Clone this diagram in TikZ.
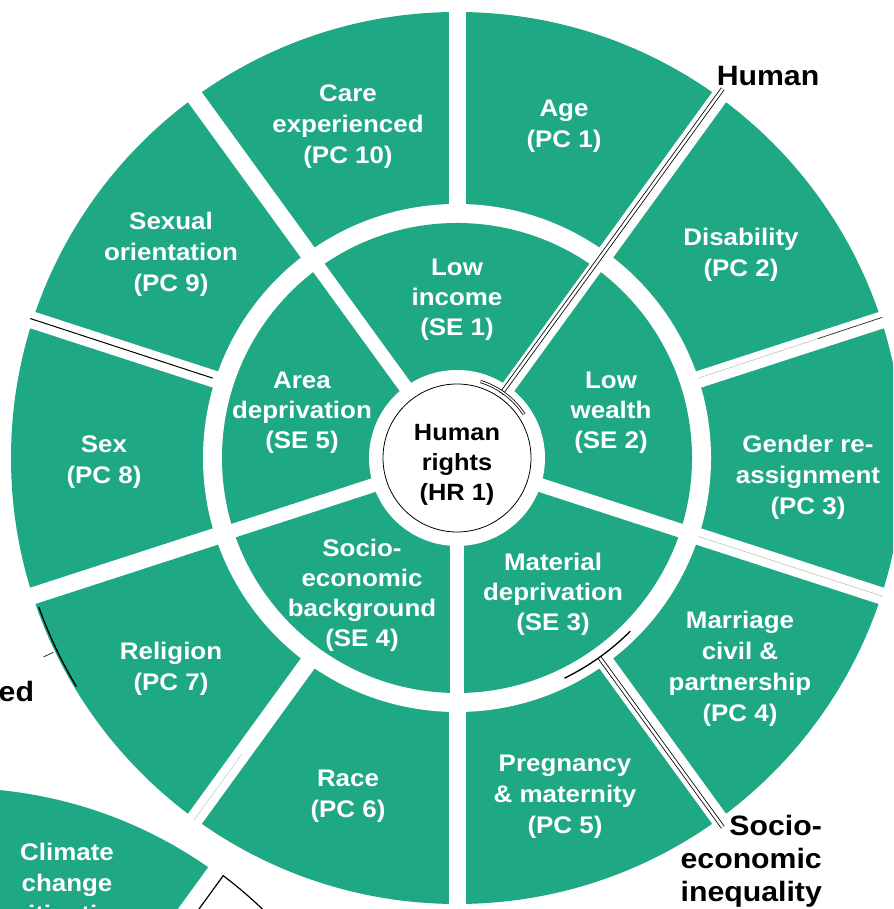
\documentclass[tikz,border=0pt]{standalone}
\usepackage{fontspec}
\setmainfont{Liberation Sans}[FakeStretch=1.08]
\usetikzlibrary{calc}
\definecolor{wgreen}{HTML}{1FA884}
\tikzset{
  pclabel/.style={text=white, font={\bfseries\fontsize{24}{31}\selectfont}, align=center, inner sep=0pt},
  selabel/.style={text=white, font={\bfseries\fontsize{24}{30}\selectfont}, align=center, inner sep=0pt},
  hrlabel/.style={text=black, font={\bfseries\fontsize{23.5}{30}\selectfont}, align=center, inner sep=0pt},
  outlabel/.style={text=black, font={\bfseries\fontsize{28}{33}\selectfont}, inner sep=0pt},
  pcgap/.style={white, line width=17pt},
  segap/.style={white, line width=14pt},
  dblline/.style={draw=black, double=white, double distance=2.6pt, line width=0.8pt},
  markarc/.style={draw=black, line width=1.3pt},
  faintline/.style={draw=gray!55, line width=0.5pt},
}
\begin{document}
\begin{tikzpicture}[x=1pt,y=1pt]
\useasboundingbox (0,0) rectangle (893,909);
\clip (0,0) rectangle (893,909);
\coordinate (C) at (457,451);
\coordinate (O2) at (-44,-320);

% ---- main wheel rings
\fill[wgreen] (C) circle (446);
\fill[white] (C) circle (254);
\fill[wgreen] (C) circle (235);
\fill[white] (C) circle (88);
\foreach \a in {90,54,...,-234}
  \draw[pcgap] ($(C)+(\a:240)$) -- ($(C)+(\a:470)$);
\foreach \a in {54,126,198,270,342}
  \draw[segap] ($(C)+(\a:70)$) -- ($(C)+(\a:245)$);

% ---- centre
\node[circle, draw=black, fill=white, line width=0.8pt, minimum size=148pt, inner sep=0pt] (hr) at (C) {};
\node[hrlabel] (hrtext) at (457,444.5) {Human\\rights\\(HR 1)};

% ---- inner ring labels
\node[selabel] (se1) at (457,609.5) {Low\\income\\(SE 1)};
\node[selabel] (se2) at (611,496.5) {Low\\wealth\\(SE 2)};
\node[selabel] (se3) at (553,314.5) {Material\\deprivation\\(SE 3)};
\node[selabel] (se4) at (362,314) {Socio-\\economic\\background\\(SE 4)};
\node[selabel] (se5) at (302,496.5) {Area\\deprivation\\(SE 5)};

% ---- outer ring labels
\node[pclabel] (pc1) at (564,782.5) {Age\\(PC 1)};
\node[pclabel] (pc2) at (741,654) {Disability\\(PC 2)};
\node[pclabel] (pc3) at (808,431.5) {Gender re-\\assignment\\(PC 3)};
\node[pclabel] (pc4) at (740,240) {Marriage\\civil \&\\partnership\\(PC 4)};
\node[pclabel] (pc5) at (565,112) {Pregnancy\\\& maternity\\(PC 5)};
\node[pclabel] (pc6) at (348,113) {Race\\(PC 6)};
\node[pclabel] (pc7) at (171,240) {Religion\\(PC 7)};
\node[pclabel] (pc8) at (104,447) {Sex\\(PC 8)};
\node[pclabel] (pc9) at (171,654.5) {Sexual\\orientation\\(PC 9)};
\node[pclabel] (pc10) at (348,782.5) {Care\\experienced\\(PC 10)};

% ---- second wheel (partly visible, bottom left)
\fill[wgreen] (O2) -- ($(O2)+(54:441)$) arc[start angle=54, end angle=180, radius=441] -- cycle;
\draw[pcgap] ($(O2)+(54:300)$) -- ($(O2)+(54:448)$);
\draw[black, line width=1.2pt] ($(O2)+(54:380)+(-36:8.5)$) -- ($(O2)+(52.9:443)$) arc[start angle=52.9, end angle=30, radius=443];
\node[pclabel] (climate) at (67,23.5) {Climate\\change\\mitigation};

% ---- overlay markers of the surrounding figure
\coordinate (hA) at ($(C)+(54:78)+(144:2)$);
\coordinate (hB) at ($(C)+(54:455)+(144:2)$);
\path[dblline] (hA) -- (hB);
\path[draw=black, double=white, double distance=1.4pt, line width=0.8pt] ($(C)+(73:80)$) arc[start angle=73, end angle=33, radius=80];
\node[outlabel, anchor=center] (human) at (768,833) {Human};

\coordinate (sA) at ($(C)+(-54:245)+(-144:2)$);
\coordinate (sB) at ($(C)+(-54:455)+(-144:2)$);
\path[dblline] (sA) -- (sB);
\path[markarc] ($(C)+(-64:245)$) arc[start angle=-64, end angle=-45, radius=245];
\node[outlabel, align=right, anchor=east] (socio) at (822,48) {Socio-\\economic\\inequality};

\path[markarc] ($(C)+(199.6:444)$) arc[start angle=199.6, end angle=211, radius=444];
\coordinate (tA) at ($(C)+(205.7:448)$);
\coordinate (tB) at ($(C)+(205.7:459)$);
\draw[black, line width=0.6pt] (tA) -- (tB);
\node[outlabel, anchor=base west] (ed) at (-1.5,207) {ed};

\draw[black, line width=1pt] ($(C)+(161.9:257)$) -- ($(C)+(161.9:449)$);
\draw[faintline] ($(C)+(18.3:254)$) -- ($(C)+(18.3:380)$);
\draw[black!85, line width=0.7pt] ($(C)+(18.3:380)$) -- ($(C)+(18.3:448)$);
\draw[faintline] ($(C)+(-18:254)$) -- ($(C)+(-18:448)$);
\draw[faintline, draw=gray!45] ($(C)+(-126:366)$) -- ($(C)+(-126:447)$);
\end{tikzpicture}
\end{document}
